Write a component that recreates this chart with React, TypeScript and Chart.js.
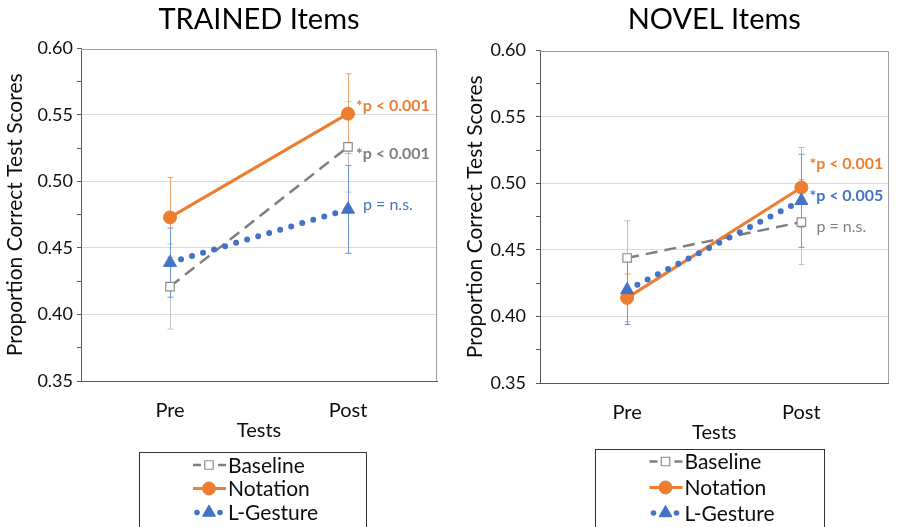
import React, { useEffect, useRef } from 'react';
import { Chart, registerables } from 'chart.js';

Chart.register(...registerables);

// ---------------- data ----------------
const categories = ['Pre', 'Post'];
const seriesNames = ['Baseline', 'Notation', 'L-Gesture'];
const yMin = 0.35;
const yMax = 0.6;
const yStep = 0.025;

const trainedTitle = 'TRAINED Items';
const trainedBaseline = [0.421, 0.526];
const trainedNotation = [0.473, 0.551];
const trainedGesture = [0.439, 0.479];
const trainedBaselineErr = [0.032, 0.034];
const trainedNotationErr = [0.03, 0.03];
const trainedGestureErr = [0.026, 0.033];
const trainedNotes = ['*p < 0.001', '*p < 0.001', 'p = n.s.'];
const trainedNoteY = [0.5207, 0.5566, 0.4825];

const novelTitle = 'NOVEL Items';
const novelBaseline = [0.444, 0.471];
const novelNotation = [0.414, 0.497];
const novelGesture = [0.42, 0.487];
const novelBaselineErr = [0.028, 0.032];
const novelNotationErr = [0.018, 0.03];
const novelGestureErr = [0.026, 0.035];
const novelNotes = ['p = n.s.', '*p < 0.001', '*p < 0.005'];
const novelNoteY = [0.4672, 0.5151, 0.4904];

const yAxisTitle = 'Proportion Correct Test Scores';
const xAxisTitle = 'Tests';

// ---------------- styles ----------------
const FONT = 'Lato, "Open Sans", "DejaVu Sans", sans-serif';
const TEXT = '#0d0d0d';

const styles = [
  { color: '#7f7f7f', err: '#c4c4c4', dash: [12, 7], width: 2.5, cap: 'butt', point: 'rect', radius: 6, fill: '#ffffff', pBorder: '#8c8c8c', pBorderW: 1.2 },
  { color: '#ed7d31', err: '#f2a46f', dash: [], width: 3, cap: 'butt', point: 'circle', radius: 6.5, fill: '#ed7d31', pBorder: '#ed7d31', pBorderW: 1 },
  { color: '#4472c4', err: '#6f95d8', dash: [0, 11.5], width: 6, cap: 'round', point: 'triangle', radius: 7.5, fill: '#4472c4', pBorder: '#4472c4', pBorderW: 1 },
];

type Layout = {
  width: number; left: number; padRight: number; titlePadTop: number; titlePadBottom: number;
  yTitlePad: number; tickPad: number; xHeight: number; padBottom: number;
  box: number[]; rows: number[]; sampleX: number;
};

const leftLayout: Layout = {
  width: 449, left: 81, padRight: 12, titlePadTop: 2, titlePadBottom: 11.7,
  yTitlePad: 3, tickPad: 4, xHeight: 64, padBottom: 82,
  box: [139, 452, 366, 527], rows: [465, 488.5, 512.5], sampleX: 193,
};
const rightLayout: Layout = {
  width: 448, left: 91, padRight: 0, titlePadTop: 2, titlePadBottom: 13.7,
  yTitlePad: 14, tickPad: 10, xHeight: 64, padBottom: 80,
  box: [146, 449, 375, 528], rows: [461.5, 487.5, 513], sampleX: 200.5,
};

const isMajor = (v: number) => Math.abs(Math.round(v * 20) - v * 20) < 1e-6;

function drawMarker(ctx: CanvasRenderingContext2D, i: number, x: number, y: number) {
  const s = styles[i];
  ctx.save();
  ctx.fillStyle = s.fill;
  ctx.strokeStyle = s.pBorder;
  ctx.lineWidth = s.pBorderW;
  ctx.setLineDash([]);
  ctx.beginPath();
  if (s.point === 'rect') {
    const h = s.radius * Math.SQRT1_2;
    ctx.rect(x - h, y - h, 2 * h, 2 * h);
  } else if (s.point === 'circle') {
    ctx.arc(x, y, s.radius, 0, Math.PI * 2);
  } else {
    const r = s.radius;
    ctx.moveTo(x, y - r);
    ctx.lineTo(x + r * Math.cos(Math.PI / 6), y + r / 2);
    ctx.lineTo(x - r * Math.cos(Math.PI / 6), y + r / 2);
    ctx.closePath();
  }
  ctx.fill();
  ctx.stroke();
  ctx.restore();
}

function makeChart(canvas: HTMLCanvasElement, title: string, values: number[][], errors: number[][], notes: string[], noteY: number[], L: Layout) {
  const extras = {
    id: 'extras',
    beforeDatasetsDraw(chart: any) {
      const { ctx, chartArea } = chart;
      const y = chart.scales.y;
      ctx.save();
      // frame (top + right)
      ctx.strokeStyle = '#a0a0a0';
      ctx.lineWidth = 1;
      ctx.beginPath();
      const t = Math.round(chartArea.top) + 0.5;
      const r = Math.round(chartArea.right) - 0.5;
      ctx.moveTo(chartArea.left, t);
      ctx.lineTo(r, t);
      ctx.lineTo(r, chartArea.bottom);
      ctx.stroke();
      // error bars
      errors.forEach((errs, di) => {
        const meta = chart.getDatasetMeta(di);
        ctx.strokeStyle = styles[di].err;
        ctx.lineWidth = 1;
        meta.data.forEach((pt: any, i: number) => {
          const x = Math.round(pt.x) + 0.5;
          const top = y.getPixelForValue(values[di][i] + errs[i]);
          const bot = y.getPixelForValue(values[di][i] - errs[i]);
          ctx.beginPath();
          ctx.moveTo(x, top);
          ctx.lineTo(x, bot);
          ctx.moveTo(x - 3, top);
          ctx.lineTo(x + 3, top);
          ctx.moveTo(x - 3, bot);
          ctx.lineTo(x + 3, bot);
          ctx.stroke();
        });
      });
      ctx.restore();
    },
    afterDraw(chart: any) {
      const { ctx } = chart;
      const y = chart.scales.y;
      ctx.save();
      // significance notes next to the Post points
      notes.forEach((txt, di) => {
        const meta = chart.getDatasetMeta(di);
        const pt = meta.data[meta.data.length - 1];
        const bold = txt.startsWith('*');
        ctx.font = `${bold ? 'bold ' : ''}16px ${FONT}`;
        ctx.fillStyle = styles[di].color;
        ctx.textAlign = 'left';
        ctx.textBaseline = 'middle';
        ctx.fillText(txt, pt.x + (bold ? 8 : 15), y.getPixelForValue(noteY[di]));
      });
      // legend box
      const [bx1, by1, bx2, by2] = L.box;
      ctx.strokeStyle = '#333333';
      ctx.lineWidth = 1;
      ctx.setLineDash([]);
      ctx.strokeRect(bx1 + 0.5, by1 + 0.5, bx2 - bx1, by2 - by1);
      seriesNames.forEach((name, i) => {
        const s = styles[i];
        const ry = L.rows[i];
        const sx = L.sampleX;
        const cx = sx + 16;
        ctx.save();
        ctx.strokeStyle = s.color;
        ctx.lineWidth = s.width;
        ctx.lineCap = s.cap as CanvasLineCap;
        if (i === 0) {
          ctx.setLineDash([]);
          ctx.beginPath();
          ctx.moveTo(sx, ry); ctx.lineTo(sx + 8, ry);
          ctx.moveTo(sx + 25, ry); ctx.lineTo(sx + 33, ry);
          ctx.stroke();
        } else if (i === 1) {
          ctx.beginPath();
          ctx.moveTo(sx, ry); ctx.lineTo(sx + 33, ry);
          ctx.stroke();
        } else {
          ctx.fillStyle = s.color;
          [cx - 12, cx + 11].forEach((dx) => {
            ctx.beginPath();
            ctx.arc(dx, ry, 2.8, 0, Math.PI * 2);
            ctx.fill();
          });
        }
        ctx.restore();
        drawMarker(ctx, i, cx, ry);
        ctx.font = `21px ${FONT}`;
        ctx.fillStyle = TEXT;
        ctx.textAlign = 'left';
        ctx.textBaseline = 'middle';
        ctx.fillText(name, sx + 35, ry + 1);
      });
      ctx.restore();
    },
  };

  return new Chart(canvas, {
    type: 'line',
    data: {
      labels: categories,
      datasets: values.map((v, i) => ({
        label: seriesNames[i],
        data: v,
        order: 3 - i,
        borderColor: styles[i].color,
        borderWidth: styles[i].width,
        borderDash: styles[i].dash,
        borderCapStyle: styles[i].cap as CanvasLineCap,
        pointStyle: styles[i].point as any,
        pointRadius: styles[i].radius,
        pointHoverRadius: styles[i].radius,
        pointBackgroundColor: styles[i].fill,
        pointBorderColor: styles[i].pBorder,
        pointBorderWidth: styles[i].pBorderW,
        tension: 0,
        fill: false,
      })),
    },
    options: {
      animation: false,
      responsive: false,
      maintainAspectRatio: false,
      events: [],
      layout: { padding: { left: 0, right: L.padRight, top: 0, bottom: L.padBottom } },
      plugins: {
        legend: { display: false },
        tooltip: { enabled: false },
        title: {
          display: true,
          text: title,
          fullSize: false,
          color: '#000000',
          font: { family: FONT, size: 29, weight: 'normal' },
          padding: { top: L.titlePadTop, bottom: L.titlePadBottom },
        },
      },
      scales: {
        x: {
          type: 'category',
          offset: true,
          afterFit: (s: any) => { s.height = L.xHeight; },
          grid: { display: false, drawTicks: false },
          border: { display: true, color: '#595959', width: 1 },
          ticks: { color: TEXT, font: { family: FONT, size: 20 }, padding: 18 },
          title: { display: true, text: xAxisTitle, color: TEXT, font: { family: FONT, size: 20 }, padding: { top: 0, bottom: 2 } },
        },
        y: {
          type: 'linear',
          min: yMin,
          max: yMax,
          afterFit: (s: any) => { s.width = L.left; },
          ticks: {
            stepSize: yStep,
            autoSkip: false,
            color: TEXT,
            font: { family: FONT, size: 18 },
            padding: L.tickPad,
            callback: (v: any) => (isMajor(Number(v)) ? Number(v).toFixed(2) : ''),
          },
          grid: {
            color: (c: any) => {
              const v = c.tick ? c.tick.value : 0;
              return isMajor(v) && v > yMin + 1e-6 && v < yMax - 1e-6 ? '#dcdcdc' : 'rgba(0,0,0,0)';
            },
            tickColor: '#595959',
            tickLength: 4,
            lineWidth: 1,
          },
          border: { display: true, color: '#595959', width: 1 },
          title: { display: true, text: yAxisTitle, color: TEXT, font: { family: FONT, size: 21 }, padding: { top: L.yTitlePad, bottom: 0 } },
        },
      },
    },
    plugins: [extras],
  } as any);
}

function Panel(props: { title: string; values: number[][]; errors: number[][]; notes: string[]; noteY: number[]; layout: Layout; x: number }) {
  const ref = useRef<HTMLCanvasElement>(null);
  useEffect(() => {
    if (!ref.current) return;
    const chart = makeChart(ref.current, props.title, props.values, props.errors, props.notes, props.noteY, props.layout);
    return () => chart.destroy();
  }, []);
  return (
    <canvas
      ref={ref}
      width={props.layout.width}
      height={527}
      style={{ position: 'absolute', left: props.x, top: 0, width: props.layout.width, height: 527 }}
    />
  );
}

export default function App() {
  return (
    <div style={{ position: 'absolute', left: 0, top: 0, width: 897, height: 527, background: '#ffffff', overflow: 'hidden' }}>
      <Panel
        title={trainedTitle}
        values={[trainedBaseline, trainedNotation, trainedGesture]}
        errors={[trainedBaselineErr, trainedNotationErr, trainedGestureErr]}
        notes={trainedNotes}
        noteY={trainedNoteY}
        layout={leftLayout}
        x={0}
      />
      <Panel
        title={novelTitle}
        values={[novelBaseline, novelNotation, novelGesture]}
        errors={[novelBaselineErr, novelNotationErr, novelGestureErr]}
        notes={novelNotes}
        noteY={novelNoteY}
        layout={rightLayout}
        x={449}
      />
    </div>
  );
}
